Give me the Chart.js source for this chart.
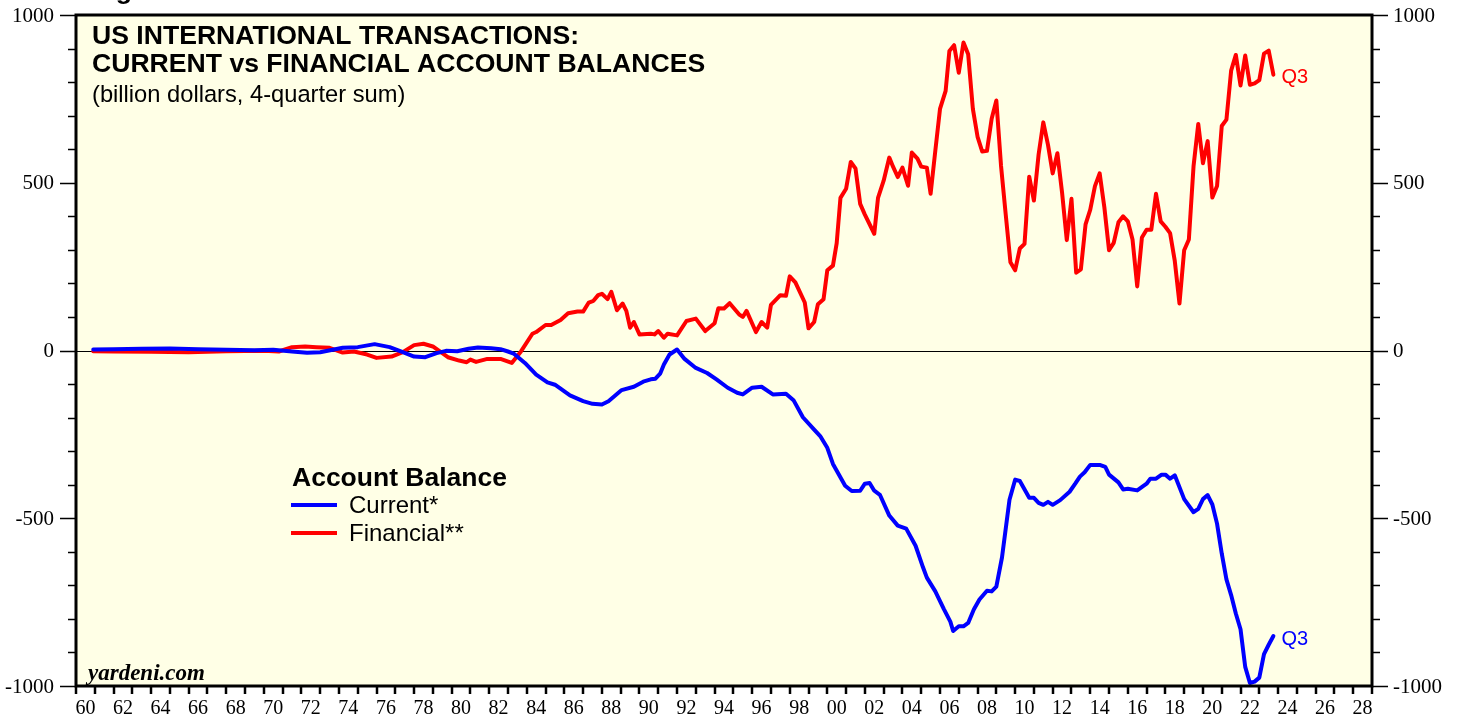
<!DOCTYPE html>
<html>
<head>
<meta charset="utf-8">
<script src="https://cdn.jsdelivr.net/npm/chart.js@4.4.0/dist/chart.umd.min.js"></script>
<style>
  html, body { margin: 0; padding: 0; background: #fff; }
  #wrap { width: 1458px; height: 719px; position: relative; }
</style>
</head>
<body>
<div id="wrap"><canvas id="chart" width="1458" height="719"></canvas></div>
<script>
// current account balance, billion $, 4-quarter sum
const currentYears = [1960.92, 1962, 1963.5, 1965, 1966.5, 1968, 1969.5, 1970.5, 1971.5, 1972.3, 1973, 1974.2, 1975, 1975.9, 1976.7, 1977.4, 1978, 1978.6, 1979.2, 1979.7, 1980.3, 1980.9, 1981.4, 1982.1, 1982.6, 1983, 1983.3, 1983.9, 1984.5, 1985.1, 1985.5, 1986.3, 1987, 1987.5, 1988, 1988.35, 1989.05, 1989.7, 1990.2, 1990.6, 1990.85, 1991.1, 1991.3, 1991.6, 1992, 1992.4, 1993, 1993.6, 1994.1, 1994.7, 1995.2, 1995.5, 1996, 1996.5, 1997.1, 1997.8, 1998.2, 1998.7, 1999.3, 1999.62, 2000, 2000.3, 2000.95, 2001.3, 2001.75, 2002, 2002.25, 2002.5, 2002.8, 2003.3, 2003.75, 2004.2, 2004.7, 2005.1, 2005.3, 2005.75, 2006.2, 2006.55, 2006.7, 2007, 2007.25, 2007.5, 2007.8, 2008.1, 2008.5, 2008.75, 2009, 2009.3, 2009.7, 2010, 2010.25, 2010.75, 2011, 2011.25, 2011.5, 2011.75, 2012, 2012.4, 2012.9, 2013.2, 2013.45, 2013.7, 2014, 2014.5, 2014.8, 2015, 2015.5, 2015.75, 2016, 2016.5, 2017, 2017.2, 2017.5, 2017.8, 2018, 2018.25, 2018.5, 2019, 2019.5, 2019.75, 2020, 2020.25, 2020.5, 2020.75, 2021, 2021.25, 2021.5, 2021.75, 2022, 2022.25, 2022.5, 2022.75, 2023, 2023.25, 2023.5, 2023.75];
const currentValues = [3, 4, 5, 6, 4, 2, 1, 2, -3, -7, -5, 8, 10, 19, 10, -5, -18, -20, -8, -1, -2, 5, 9, 7, 4, -3, -9, -37, -72, -95, -102, -134, -151, -159, -161, -151, -118, -108, -93, -86, -84, -69, -42, -12, 3, -25, -52, -67, -86, -111, -126, -131, -111, -108, -131, -129, -148, -199, -236, -255, -290, -338, -403, -419, -418, -397, -395, -418, -430, -492, -522, -531, -582, -647, -677, -718, -770, -808, -836, -822, -822, -812, -772, -742, -716, -718, -704, -617, -445, -385, -389, -439, -439, -454, -460, -451, -460, -446, -421, -397, -376, -363, -341, -341, -347, -370, -393, -414, -412, -417, -397, -382, -382, -370, -370, -382, -372, -443, -482, -472, -443, -431, -459, -516, -605, -682, -729, -784, -831, -943, -991, -987, -975, -905, -877, -851];

// financial account balance, billion $, 4-quarter sum
const financialYears = [1960.92, 1962, 1964, 1966, 1968, 1970, 1970.8, 1971.5, 1972.2, 1972.8, 1973.5, 1974.2, 1974.8, 1975.5, 1976, 1976.8, 1977.4, 1978, 1978.5, 1979, 1979.8, 1980.4, 1980.8, 1981, 1981.3, 1981.9, 1982.6, 1983.2, 1983.7, 1984.3, 1984.5, 1985, 1985.3, 1985.8, 1986.2, 1986.7, 1987, 1987.3, 1987.55, 1987.8, 1988, 1988.3, 1988.5, 1988.8, 1989.1, 1989.3, 1989.5, 1989.7, 1990, 1990.6, 1990.8, 1991, 1991.3, 1991.5, 1992, 1992.5, 1993, 1993.5, 1994, 1994.2, 1994.5, 1994.8, 1995.3, 1995.5, 1995.7, 1996.2, 1996.5, 1996.8, 1997, 1997.5, 1997.8, 1998, 1998.3, 1998.8, 1999, 1999.3, 1999.5, 1999.8, 2000, 2000.3, 2000.5, 2000.7, 2001, 2001.25, 2001.5, 2001.75, 2002, 2002.5, 2002.7, 2003, 2003.3, 2003.5, 2003.75, 2004, 2004.3, 2004.5, 2004.8, 2005, 2005.3, 2005.5, 2005.75, 2006, 2006.3, 2006.5, 2006.75, 2007, 2007.25, 2007.5, 2007.75, 2008, 2008.25, 2008.5, 2008.75, 2009, 2009.25, 2009.5, 2009.75, 2010, 2010.25, 2010.5, 2010.75, 2011, 2011.25, 2011.5, 2011.75, 2012, 2012.25, 2012.5, 2012.75, 2013, 2013.25, 2013.5, 2013.75, 2014, 2014.25, 2014.5, 2014.75, 2015, 2015.25, 2015.5, 2015.75, 2016, 2016.25, 2016.5, 2016.75, 2017, 2017.25, 2017.5, 2017.75, 2018, 2018.25, 2018.5, 2018.75, 2019, 2019.25, 2019.5, 2019.75, 2020, 2020.25, 2020.5, 2020.75, 2021, 2021.25, 2021.5, 2021.75, 2022, 2022.25, 2022.5, 2022.75, 2023, 2023.25, 2023.5, 2023.75];
const financialValues = [-2, -3, -4, -5, -2, -1, -3, 10, 12, 10, 8, -6, -3, -12, -22, -18, -5, 16, 20, 12, -20, -30, -35, -27, -34, -25, -25, -37, -2, 50, 55, 76, 76, 91, 111, 116, 116, 143, 148, 165, 169, 153, 175, 120, 140, 118, 68, 85, 48, 50, 48, 58, 38, 50, 45, 88, 95, 58, 81, 126, 125, 141, 108, 100, 118, 55, 85, 68, 136, 165, 163, 221, 203, 143, 66, 85, 138, 153, 239, 253, 320, 455, 482, 562, 543, 437, 405, 348, 455, 506, 575, 548, 517, 545, 491, 590, 572, 548, 545, 467, 595, 720, 774, 893, 910, 828, 918, 883, 720, 637, 593, 595, 691, 745, 550, 405, 263, 239, 304, 318, 518, 447, 584, 680, 613, 528, 588, 470, 329, 452, 232, 242, 376, 420, 490, 528, 427, 299, 321, 382, 400, 385, 331, 191, 337, 360, 360, 467, 385, 369, 350, 267, 140, 299, 331, 550, 675, 558, 624, 456, 490, 669, 688, 834, 881, 790, 879, 792, 796, 806, 885, 894, 822];

const seriesNames = ["Current*", "Financial**"];
const seriesColors = ["#0000ff", "#ff0000"];
const yLabelValues = [-1000, -500, 0, 500, 1000];
const xLabels = ["60", "62", "64", "66", "68", "70", "72", "74", "76", "78", "80", "82", "84", "86", "88", "90", "92", "94", "96", "98", "00", "02", "04", "06", "08", "10", "12", "14", "16", "18", "20", "22", "24", "26", "28"];

const pts = (xs, ys) => xs.map((x, i) => ({ x: x, y: ys[i] }));

const decor = {
  id: "decor",
  beforeDraw(chart) {
    const { ctx, chartArea: a } = chart;
    ctx.save();
    ctx.fillStyle = "#ffffe6";
    ctx.fillRect(a.left, a.top, a.right - a.left, a.bottom - a.top);
    ctx.restore();
  },
  beforeDatasetsDraw(chart) {
    const { ctx, chartArea: a, scales } = chart;
    const y0 = Math.round(scales.y.getPixelForValue(0)) + 0.5;
    ctx.save();
    ctx.strokeStyle = "#000";
    ctx.lineWidth = 1;
    ctx.beginPath();
    ctx.moveTo(a.left, y0);
    ctx.lineTo(a.right, y0);
    ctx.stroke();
    ctx.restore();
  },
  afterDraw(chart) {
    const { ctx, chartArea: a, scales } = chart;
    const xs = scales.x, ys = scales.y;
    ctx.save();

    // frame
    ctx.strokeStyle = "#000";
    ctx.lineWidth = 3;
    ctx.strokeRect(a.left, a.top, a.right - a.left, a.bottom - a.top);

    // y ticks both sides
    ctx.lineWidth = 1.5;
    for (let v = -1000; v <= 1000; v += 100) {
      const py = Math.round(ys.getPixelForValue(v)) + 0.5;
      const len = v % 500 === 0 ? 16 : 8;
      ctx.beginPath();
      ctx.moveTo(a.left - len, py); ctx.lineTo(a.left, py);
      ctx.moveTo(a.right, py); ctx.lineTo(a.right + len, py);
      ctx.stroke();
    }
    ctx.fillStyle = "#000";
    ctx.font = "21px 'Liberation Serif', serif";
    ctx.textBaseline = "middle";
    yLabelValues.forEach(v => {
      const py = ys.getPixelForValue(v) + 1;
      ctx.textAlign = "right";
      ctx.fillText(String(v), a.left - 22, py);
      ctx.textAlign = "left";
      ctx.fillText(String(v), a.right + 21, py);
    });

    // x ticks every year, labels every other year centred in the year
    ctx.lineWidth = 2.5;
    for (let yr = 1960; yr <= 2029; yr++) {
      const px = Math.round(xs.getPixelForValue(yr));
      ctx.beginPath();
      ctx.moveTo(px, a.bottom); ctx.lineTo(px, a.bottom + 8);
      ctx.stroke();
    }
    ctx.font = "20px 'Liberation Serif', serif";
    ctx.textAlign = "center";
    ctx.textBaseline = "alphabetic";
    xLabels.forEach((lab, i) => {
      ctx.fillText(lab, xs.getPixelForValue(1960 + i * 2 + 0.5), 714);
    });

    // header texts
    ctx.textAlign = "left";
    ctx.font = "bold 26.6px 'Liberation Sans', Arial, sans-serif";
    ctx.fillText("Figure 1.", 92, -1);
    ctx.fillText("US INTERNATIONAL TRANSACTIONS:", 92, 44);
    ctx.fillText("CURRENT vs FINANCIAL ACCOUNT BALANCES", 92, 72);
    ctx.font = "23.7px 'Liberation Sans', Arial, sans-serif";
    ctx.fillText("(billion dollars, 4-quarter sum)", 92, 102);

    // legend
    ctx.font = "bold 26.5px 'Liberation Sans', Arial, sans-serif";
    ctx.fillText("Account Balance", 292, 486);
    ctx.font = "24px 'Liberation Sans', Arial, sans-serif";
    chart.data.datasets.forEach((ds, i) => {
      const ly = 505 + i * 28;
      ctx.strokeStyle = ds.borderColor;
      ctx.lineWidth = 4;
      ctx.beginPath();
      ctx.moveTo(291, ly); ctx.lineTo(337, ly);
      ctx.stroke();
      ctx.fillStyle = "#000";
      ctx.fillText(ds.label, 349, ly + 8);
    });

    // last-quarter tags
    ctx.font = "20px 'Liberation Sans', Arial, sans-serif";
    ctx.textBaseline = "middle";
    chart.data.datasets.forEach((ds, i) => {
      const last = ds.data[ds.data.length - 1];
      ctx.fillStyle = ds.borderColor;
      ctx.fillText("Q3", xs.getPixelForValue(last.x) + 8, ys.getPixelForValue(last.y) + 3);
    });

    // source
    ctx.fillStyle = "#000";
    ctx.textBaseline = "alphabetic";
    ctx.font = "italic bold 23px 'Liberation Serif', serif";
    ctx.fillText("yardeni.com", 88, 680);
    ctx.restore();
  }
};

new Chart(document.getElementById("chart"), {
  type: "scatter",
  data: {
    datasets: [
      { label: seriesNames[0], data: pts(currentYears, currentValues), borderColor: seriesColors[0] },
      { label: seriesNames[1], data: pts(financialYears, financialValues), borderColor: seriesColors[1] }
    ].map(d => Object.assign(d, { showLine: true, borderWidth: 4, pointRadius: 0, tension: 0, borderJoinStyle: "round", borderCapStyle: "round" }))
  },
  options: {
    responsive: false,
    animation: false,
    layout: { padding: { left: 76, right: 86, top: 15, bottom: 33 } },
    plugins: { legend: { display: false }, tooltip: { enabled: false } },
    scales: {
      x: { type: "linear", min: 1960, max: 2029, display: false },
      y: { type: "linear", min: -1000, max: 1000, display: false }
    }
  },
  plugins: [decor]
});
</script>
</body>
</html>
